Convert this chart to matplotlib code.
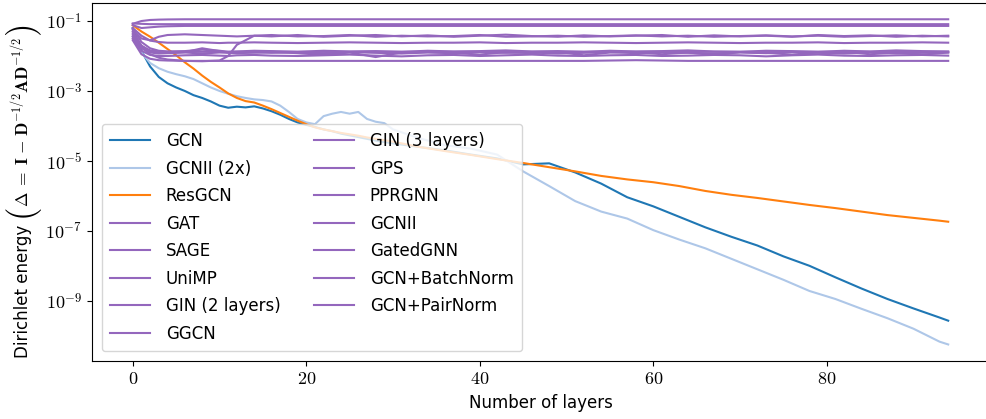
import numpy as np
import matplotlib
matplotlib.use("Agg")
import matplotlib.pyplot as plt
from matplotlib.ticker import NullLocator

plt.rcParams['font.family'] = ['DejaVu Sans']
plt.rcParams['mathtext.fontset'] = 'cm'

# layers at which values were read (main curves)
x_main = [0, 1, 2, 3, 4, 5, 6, 7, 8, 9, 10, 11, 12, 13, 14, 15, 16, 17, 18, 19, 20,
          21, 22, 23, 24, 25, 26, 27, 28, 29, 30,
          33, 36, 39, 42, 45, 48, 51, 54, 57, 60, 63, 66, 69, 72, 75, 78, 81, 84, 87, 90, 93,
          94]

# log10 of Dirichlet energy
gcn = [-1.20, -1.85, -2.30, -2.60, -2.78, -2.90, -3.00, -3.12, -3.20, -3.30, -3.42,
       -3.48, -3.45, -3.47, -3.44, -3.50, -3.58, -3.68, -3.80, -3.90, -3.97,
       -4.03, -4.10, -4.15, -4.22, -4.27, -4.32, -4.37, -4.42, -4.46, -4.50,
       -4.60, -4.70, -4.82, -4.93, -5.10, -5.07, -5.33, -5.65, -6.04, -6.30, -6.60,
       -6.90, -7.17, -7.42, -7.73, -8.00, -8.33, -8.65, -8.95, -9.22, -9.48,
       -9.57]
gcnii_2x = [-1.45, -1.90, -2.20, -2.35, -2.45, -2.52, -2.58, -2.66, -2.78, -2.90, -3.00,
            -3.08, -3.15, -3.20, -3.24, -3.26, -3.30, -3.42, -3.60, -3.80, -3.90,
            -3.95, -3.72, -3.65, -3.60, -3.65, -3.60, -3.80, -3.88, -3.92, -4.10,
            -4.35, -4.55, -4.65, -4.82, -5.30, -5.72, -6.15, -6.45, -6.65, -6.98, -7.25,
            -7.50, -7.80, -8.10, -8.40, -8.72, -8.95, -9.23, -9.50, -9.80, -10.17,
            -10.25]
resgcn = [-1.12, -1.30, -1.45, -1.62, -1.80, -1.98, -2.18, -2.36, -2.56, -2.74, -2.90,
          -3.07, -3.20, -3.29, -3.33, -3.42, -3.52, -3.63, -3.74, -3.85, -3.95,
          -4.04, -4.10, -4.15, -4.20, -4.24, -4.28, -4.33, -4.37, -4.41, -4.45,
          -4.60, -4.72, -4.83, -4.95, -5.06, -5.18, -5.30, -5.43, -5.53, -5.61, -5.72,
          -5.86, -5.97, -6.06, -6.16, -6.26, -6.35, -6.45, -6.55, -6.63, -6.71,
          -6.74]

# layers at which the flat (purple) models were read
x_p = [0, 1, 2, 3, 4, 6, 8, 10, 11, 12, 14, 16,
       19, 22, 25, 28, 31, 34, 37, 40, 43, 46, 49, 52, 55, 58, 61, 64, 67, 70, 73,
       76, 79, 82, 85, 88, 91, 94]

gat = [-1.30, -1.70, -1.86, -1.90, -1.91, -1.89, -1.78, -1.86, -1.90, -1.91, -1.90, -1.88,
       -1.92, -1.97, -1.90, -2.03, -1.90, -1.89, -1.91, -1.96, -1.89, -1.92, -1.88, -1.98,
       -1.90, -1.89, -1.95, -1.90, -1.97, -1.89, -1.91, -1.96, -1.90, -1.88, -1.95, -1.90,
       -1.96, -1.90]
sage = [-1.20, -1.42, -1.56, -1.60, -1.62, -1.62, -1.61, -1.63, -1.62, -1.62, -1.61, -1.62,
        -1.63, -1.62, -1.61, -1.62, -1.63, -1.62, -1.62, -1.61, -1.63, -1.62, -1.62, -1.61,
        -1.62, -1.63, -1.62, -1.61, -1.62, -1.63, -1.62, -1.62, -1.61, -1.63, -1.62, -1.62,
        -1.61, -1.62]
unimp = [-1.22, -1.60, -1.78, -1.85, -1.87, -1.86, -1.82, -1.85, -1.88, -1.87, -1.85, -1.86,
         -1.88, -1.85, -1.87, -1.86, -1.88, -1.85, -1.87, -1.86, -1.84, -1.87, -1.86, -1.88,
         -1.85, -1.87, -1.86, -1.84, -1.87, -1.88, -1.85, -1.86, -1.88, -1.85, -1.87, -1.84,
         -1.86, -1.87]
gin2 = [-1.35, -1.75, -1.95, -2.05, -2.10, -2.14, -2.15, -2.13, -2.00, -1.68, -1.42, -1.44,
        -1.40, -1.45, -1.42, -1.40, -1.44, -1.41, -1.45, -1.42, -1.39, -1.43, -1.45, -1.41,
        -1.44, -1.42, -1.40, -1.45, -1.41, -1.44, -1.42, -1.45, -1.40, -1.43, -1.41, -1.45,
        -1.42, -1.44]
ggcn = [-1.50, -1.85, -1.97, -2.00, -2.00, -1.98, -1.97, -1.99, -2.00, -1.98, -1.97, -1.99,
        -2.00, -1.98, -1.96, -1.99, -2.01, -1.98, -1.97, -2.00, -1.98, -1.96, -1.99, -2.00,
        -1.98, -1.97, -2.00, -1.99, -1.97, -1.98, -2.01, -1.98, -1.96, -1.99, -2.00, -1.98,
        -1.97, -1.99]
gin3 = [-1.25, -1.50, -1.55, -1.45, -1.40, -1.38, -1.40, -1.42, -1.43, -1.44, -1.42, -1.40,
        -1.44, -1.43, -1.40, -1.45, -1.42, -1.44, -1.43, -1.40, -1.45, -1.44, -1.42, -1.45,
        -1.43, -1.41, -1.44, -1.42, -1.45, -1.43, -1.41, -1.44, -1.42, -1.45, -1.43, -1.41,
        -1.44, -1.42]
gps = [-1.45, -1.78, -1.90, -1.93, -1.92, -1.90, -1.93, -1.90, -1.91, -1.92, -1.90, -1.91,
       -1.90, -1.92, -1.89, -1.91, -1.93, -1.90, -1.92, -1.89, -1.91, -1.90, -1.93, -1.91,
       -1.89, -1.92, -1.90, -1.91, -1.93, -1.90, -1.92, -1.89, -1.91, -1.93, -1.90, -1.92,
       -1.91, -1.90]
pprgnn = [-1.07, -1.08, -1.09, -1.09, -1.09, -1.09, -1.09, -1.09, -1.09, -1.09, -1.09, -1.09,
          -1.09, -1.09, -1.09, -1.09, -1.09, -1.09, -1.09, -1.09, -1.09, -1.09, -1.09, -1.09,
          -1.09, -1.09, -1.09, -1.09, -1.09, -1.09, -1.09, -1.09, -1.09, -1.09, -1.09, -1.09,
          -1.09, -1.09]
gcnii = [-1.55, -1.95, -2.08, -2.12, -2.13, -2.14, -2.14, -2.14, -2.14, -2.14, -2.14, -2.14,
         -2.14, -2.14, -2.14, -2.14, -2.14, -2.14, -2.14, -2.14, -2.14, -2.14, -2.14, -2.14,
         -2.13, -2.12, -2.13, -2.14, -2.14, -2.14, -2.14, -2.14, -2.14, -2.14, -2.14, -2.14,
         -2.14, -2.14]
gatedgnn = [-1.12, -1.20, -1.18, -1.16, -1.15, -1.14, -1.14, -1.14, -1.14, -1.14, -1.14, -1.14,
            -1.14, -1.14, -1.14, -1.14, -1.14, -1.14, -1.14, -1.14, -1.14, -1.14, -1.14, -1.14,
            -1.14, -1.14, -1.14, -1.14, -1.14, -1.14, -1.14, -1.14, -1.14, -1.14, -1.14, -1.14,
            -1.14, -1.14]
gcn_bn = [-1.08, -1.00, -0.97, -0.96, -0.955, -0.95, -0.95, -0.95, -0.95, -0.95, -0.95, -0.95,
          -0.95, -0.95, -0.95, -0.95, -0.95, -0.95, -0.95, -0.95, -0.95, -0.95, -0.95, -0.95,
          -0.95, -0.95, -0.95, -0.95, -0.95, -0.95, -0.95, -0.95, -0.95, -0.95, -0.95, -0.95,
          -0.95, -0.95]
gcn_pn = [-1.40, -1.72, -1.84, -1.87, -1.88, -1.88, -1.88, -1.88, -1.88, -1.88, -1.88, -1.88,
          -1.88, -1.88, -1.88, -1.88, -1.88, -1.88, -1.88, -1.88, -1.88, -1.88, -1.88, -1.88,
          -1.88, -1.88, -1.88, -1.88, -1.88, -1.88, -1.88, -1.88, -1.88, -1.88, -1.88, -1.88,
          -1.88, -1.88]

main_series = [("GCN", gcn, "#1f77b4"), ("GCNII (2x)", gcnii_2x, "#aec7e8"),
               ("ResGCN", resgcn, "#ff7f0e")]
purple_series = [("GAT", gat), ("SAGE", sage), ("UniMP", unimp), ("GIN (2 layers)", gin2),
                 ("GGCN", ggcn), ("GIN (3 layers)", gin3), ("GPS", gps), ("PPRGNN", pprgnn),
                 ("GCNII", gcnii), ("GatedGNN", gatedgnn), ("GCN+BatchNorm", gcn_bn),
                 ("GCN+PairNorm", gcn_pn)]

W, H = 987, 419
fig = plt.figure(figsize=(W / 100, H / 100), dpi=100)
ax = fig.add_axes([0.0932, 0.1391, 0.9088, 0.8537])

for name, vals, col in main_series:
    ax.plot(x_main, 10.0 ** np.array(vals), color=col, lw=1.5, label=name)
for name, vals in purple_series:
    ax.plot(x_p, 10.0 ** np.array(vals), color="#9467bd", lw=1.5, label=name)

ax.set_yscale("log")
ax.set_yticks([1e-1, 1e-3, 1e-5, 1e-7, 1e-9],
              ["$10^{-1}$", "$10^{-3}$", "$10^{-5}$", "$10^{-7}$", "$10^{-9}$"])
ax.yaxis.set_minor_locator(NullLocator())
ax.set_xticks([0, 20, 40, 60, 80], ["$0$", "$20$", "$40$", "$60$", "$80$"])
ax.tick_params(axis='both', which='major', labelsize=13)

ax.set_xlabel("Number of layers", fontsize=12)

ax.legend(loc="lower left", ncol=2, fontsize=12, handlelength=2.4,
          handletextpad=0.95, borderaxespad=0.58, columnspacing=2.0,
          labelspacing=0.57, borderpad=0.5)

# y label built from pieces so the brackets can be large
renderer = fig.canvas.get_renderer()
base_x = 28.5


def piece(s, y, x, size, va):
    t = fig.text(x / W, y / H, s, rotation=90, rotation_mode='anchor',
                 ha='left', va=va, fontsize=size)
    return y + t.get_window_extent(renderer).height


y = 61
y = piece("Dirichlet energy", y, base_x, 12, 'baseline') + 4
y = piece("$($", y, 24, 25, 'center')
y = piece(r"$\mathbf{\Delta}\;{=}\;\mathbf{I}\;{-}\;\mathbf{D}^{-1/2}\mathbf{A}\mathbf{D}^{-1/2}$",
          y, base_x, 12.5, 'baseline')
y = piece("$)$", y, 24, 25, 'center')

fig.savefig("out.png", dpi=100)
